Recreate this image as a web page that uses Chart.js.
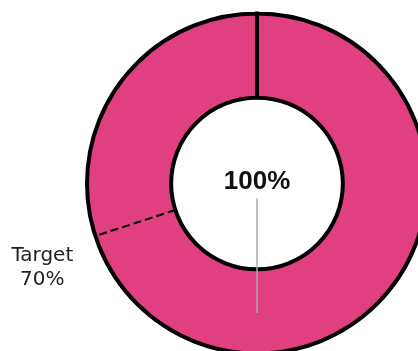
<!DOCTYPE html>
<html>
<head>
<meta charset="utf-8">
<script src="https://cdn.jsdelivr.net/npm/chart.js@4/dist/chart.umd.min.js"></script>
<style>
  html, body { margin: 0; padding: 0; background: #ffffff; overflow: hidden; }
  #wrap { position: relative; width: 418px; height: 351px; }
</style>
</head>
<body>
<div id="wrap"><canvas id="c" width="418" height="351"></canvas></div>
<script>
// ---- data ----
const categories = ['Actual'];
const values = [100];          // percent
const targetValues = [70];     // percent
const targetLabels = ['Target'];
const pointerValues = [50];    // grey needle, percent of the dial
const centerLabels = ['100%'];

const targetPlugin = {
  id: 'targetPlugin',
  afterDatasetsDraw(chart) {
    const meta = chart.getDatasetMeta(0);
    const arc = meta.data[0];
    if (!arc) return;
    const { x, y, innerRadius, outerRadius } = arc.getProps(['x', 'y', 'innerRadius', 'outerRadius'], true);
    const start = -Math.PI / 2;
    const ctx = chart.ctx;
    ctx.save();

    // target dashed line
    const ta = start + 2 * Math.PI * targetValues[0] / 100;
    ctx.strokeStyle = '#000';
    ctx.lineWidth = 2;
    ctx.setLineDash([8, 4]);
    ctx.beginPath();
    ctx.moveTo(x + Math.cos(ta) * innerRadius, y + Math.sin(ta) * innerRadius);
    ctx.lineTo(x + Math.cos(ta) * outerRadius, y + Math.sin(ta) * outerRadius);
    ctx.stroke();
    ctx.setLineDash([]);

    // target label
    const ox = x + Math.cos(ta) * outerRadius;
    const oy = y + Math.sin(ta) * outerRadius;
    ctx.fillStyle = '#222';
    ctx.font = '20px "DejaVu Sans"';
    ctx.textAlign = 'center';
    ctx.textBaseline = 'alphabetic';
    ctx.fillText(targetLabels[0], ox - 53, oy + 25);
    ctx.fillText(targetValues[0] + '%', ox - 53, oy + 49);

    // grey needle
    const pa = start + 2 * Math.PI * pointerValues[0] / 100;
    const pr = innerRadius + (outerRadius - innerRadius) * 0.52;
    ctx.strokeStyle = '#aaaaaa';
    ctx.lineWidth = 1.5;
    ctx.beginPath();
    ctx.moveTo(x + Math.cos(pa) * 15, y + Math.sin(pa) * 15);
    ctx.lineTo(x + Math.cos(pa) * pr, y + Math.sin(pa) * pr);
    ctx.stroke();

    // centre value
    ctx.fillStyle = '#111';
    ctx.font = 'bold 26px "Liberation Sans"';
    ctx.textAlign = 'center';
    ctx.textBaseline = 'alphabetic';
    ctx.fillText(centerLabels[0], x, y + 5);
    ctx.restore();
  }
};

new Chart(document.getElementById('c'), {
  type: 'doughnut',
  data: {
    labels: categories,
    datasets: [{
      data: values,
      backgroundColor: ['#e0407f'],
      borderColor: '#000000',
      borderWidth: 4,
      hoverBorderWidth: 4,
      borderJoinStyle: 'miter'
    }]
  },
  options: {
    responsive: false,
    animation: false,
    radius: 170,
    cutout: '50.5%',
    rotation: 0,
    layout: { padding: { left: 96, right: 0, top: 16, bottom: 0 } },
    plugins: {
      legend: { display: false },
      tooltip: { enabled: false }
    }
  },
  plugins: [targetPlugin]
});
</script>
</body>
</html>
